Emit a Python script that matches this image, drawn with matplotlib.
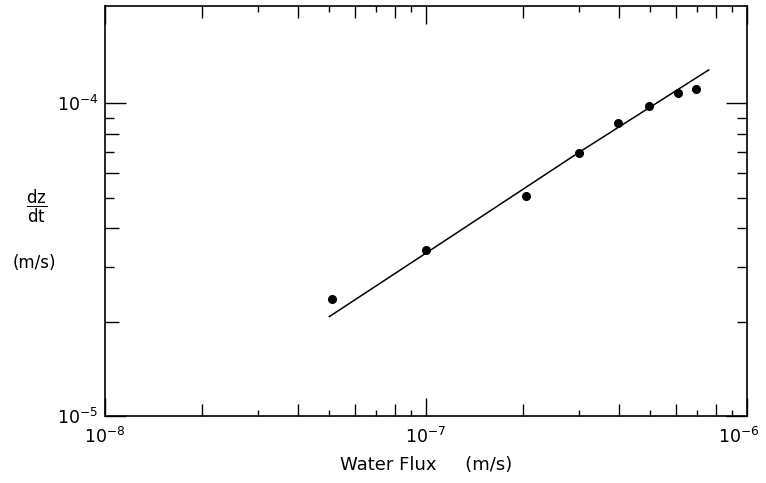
import numpy as np
import matplotlib.pyplot as plt
import matplotlib.transforms as mtransforms
from matplotlib.ticker import FixedLocator, NullFormatter

# measured points: water flux (m/s) against dz/dt (m/s)
flux = [5.1e-8, 1.0e-7, 2.05e-7, 3.0e-7, 3.95e-7, 4.95e-7, 6.1e-7, 6.95e-7]
dzdt = [2.36e-5, 3.39e-5, 5.04e-5, 6.96e-5, 8.67e-5, 9.78e-5, 1.078e-4, 1.11e-4]

# fitted line at a few places
fit_flux = [5.0e-8, 1.0e-7, 3.0e-7, 7.6e-7]
fit_dzdt = [2.08e-5, 3.32e-5, 6.98e-5, 1.28e-4]

x_major = [1e-8, 1e-7, 1e-6]
x_labels = [r'$10^{-8}$', r'$10^{-7}$', r'$10^{-6}$']
y_major = [1e-5, 1e-4]
y_labels = [r'$10^{-5}$', r'$10^{-4}$']
mult = [2, 3, 4, 5, 6, 7, 8, 9]
x_minor = [m * d for d in [1e-8, 1e-7] for m in mult]
y_minor = [m * 1e-5 for m in mult]

plt.rcParams['font.family'] = 'DejaVu Sans'
plt.rcParams['mathtext.fontset'] = 'dejavusans'

fig = plt.figure(figsize=(7.66, 4.83), dpi=100)
ax = fig.add_axes([105 / 766, 1 - 416 / 483, 642 / 766, 410 / 483])

ax.plot(fit_flux, fit_dzdt, color='black', lw=1.1)
ax.plot(flux, dzdt, 'o', color='black', ms=5.5)

ax.set_xscale('log')
ax.set_yscale('log')
ax.set_xlim(1e-8, 1e-6)
ax.set_ylim(1e-5, 2.05e-4)

ax.xaxis.set_major_locator(FixedLocator(x_major))
ax.set_xticklabels(x_labels)
ax.xaxis.set_minor_locator(FixedLocator(x_minor))
ax.xaxis.set_minor_formatter(NullFormatter())
ax.yaxis.set_major_locator(FixedLocator(y_major))
ax.set_yticklabels(y_labels)
ax.yaxis.set_minor_locator(FixedLocator(y_minor))
ax.yaxis.set_minor_formatter(NullFormatter())

ax.tick_params(which='both', direction='in', top=True, right=True, width=1.0, labelsize=12.5)
ax.tick_params(axis='x', which='major', length=13, pad=8)
ax.tick_params(axis='y', which='major', length=15, pad=5)

for sp in ax.spines.values():
    sp.set_linewidth(1.2)

# even multiples get longer ticks than odd ones
for t, v in zip(ax.xaxis.get_minor_ticks(len(x_minor)), x_minor):
    m = round(v / 10 ** np.floor(np.log10(v) + 1e-9))
    L = 8.5 if m % 2 == 0 else 4.5
    t.tick1line.set_markersize(L)
    t.tick2line.set_markersize(L)
for t, v in zip(ax.yaxis.get_minor_ticks(len(y_minor)), y_minor):
    m = round(v / 1e-5)
    L = 10 if m % 2 == 0 else 6.5
    t.tick1line.set_markersize(L)
    t.tick2line.set_markersize(7)

# keep the last x label inside the picture
last = ax.get_xticklabels()[-1]
last.set_transform(last.get_transform() + mtransforms.ScaledTranslation(-6 / 72, 0, fig.dpi_scale_trans))

ax.set_xlabel('Water Flux     (m/s)', fontsize=13, labelpad=6)

fig.text(37 / 766, 1 - 206 / 483, r'$\dfrac{\mathregular{dz}}{\mathregular{dt}}$',
         fontsize=12, ha='center', va='center')
fig.text(34 / 766, 1 - 263 / 483, '(m/s)', fontsize=12, ha='center', va='center')

fig.savefig('out.png', dpi=100)
